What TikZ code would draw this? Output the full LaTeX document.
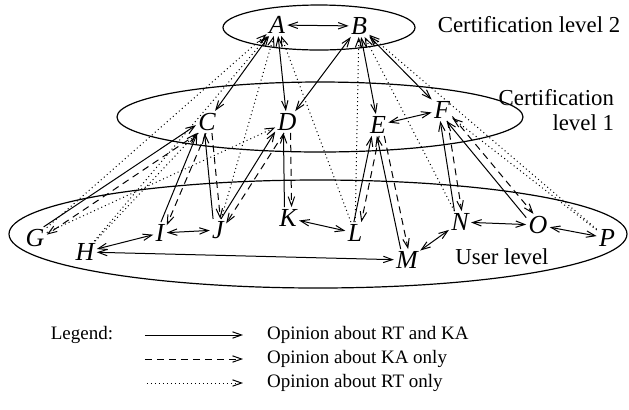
\documentclass[tikz,border=0pt]{standalone}
\usepackage{fontspec}
\setmainfont{Liberation Serif}
\usetikzlibrary{arrows.meta}
\tikzset{
  usr/.style={inner sep=1pt, font=\fontsize{13}{13}\selectfont\itshape},
  lvl/.style={line width=0.6pt},
  lvllbl/.style={font=\fontsize{11.4}{12.5}\selectfont},
  lbl/.style={font=\fontsize{9.5}{12.5}\selectfont},
  rtka/.style={line width=0.5pt},
  kaonly/.style={line width=0.5pt, dash pattern=on 3.5pt off 2.5pt},
  rtonly/.style={line width=0.5pt, dash pattern=on 0.5pt off 1.5pt},
  >={Straight Barb[length=4.5pt,width=3.2pt]}
}
\begin{document}
\begin{tikzpicture}[x=0.5pt,y=-0.5pt]
  \useasboundingbox (0,0) rectangle (629,409);
  % levels
  \draw[lvl] (319,27.5) ellipse [x radius=96, y radius=22.5];
  \draw[lvl] (320,117) ellipse [x radius=203, y radius=35];
  \draw[lvl] (318,234) ellipse [x radius=309, y radius=54];
  % texts
  \node[lvllbl] (lvl2) at (529,25) {Certification level 2};
  \node[lvllbl, align=right, anchor=east] (lvl1) at (621,110) {Certification\\level 1};
  \node[lvllbl] (lvl0) at (502,257) {User level};
  % certification level 2
  \node[usr] (A) at (277,25) {A};
  \node[usr] (B) at (359,26) {B};
  % certification level 1
  \node[usr] (C) at (207,122) {C};
  \node[usr] (D) at (287,122) {D};
  \node[usr] (E) at (378,125) {E};
  \node[usr] (F) at (442,110) {F};
  % user level
  \node[usr] (G) at (35,238) {G};
  \node[usr] (H) at (85,252) {H};
  \node[usr] (I) at (160,233) {I};
  \node[usr] (J) at (218,230) {J};
  \node[usr] (K) at (288,218) {K};
  \node[usr] (L) at (355,233) {L};
  \node[usr] (M) at (407,260) {M};
  \node[usr] (N) at (460,222) {N};
  \node[usr] (O) at (538,225) {O};
  \node[usr] (P) at (607,238) {P};
  % links between certifiers
  \draw[rtka,<->] (A) -- (B);
  \draw[rtka,<->] (A) -- (C);
  \draw[rtka,<->] (A) -- (D);
  \draw[rtka,<->] (B) -- (D);
  \draw[rtka,<->] (B) -- (E);
  \draw[rtka,<->] (B) -- (F);
  \draw[rtka,<->] (E) -- (F);
  % links between users
  \draw[rtka,<->] (H) -- (I);
  \draw[rtka,<->] (I) -- (J);
  \draw[rtka,<->] (K) -- (L);
  \draw[rtka,<->] (H) -- (M);
  \draw[rtka,<->] (M) -- (N);
  \draw[rtka,<->] (N) -- (O);
  \draw[rtka,<->] (O) -- (P);
  % users up to their certifiers
  \draw[rtka,->] (G.52) -- (C.196);
  \draw[rtka,->] (I.85) -- (C.229);
  \draw[rtka,->] (J.114) -- (C.258);
  \draw[rtka,->] (J.75) -- (D.219);
  \draw[rtka,->] (K.108) -- (D.252);
  \draw[rtka,->] (L.96) -- (E.240);
  \draw[rtka,->] (M.120) -- (E.264);
  \draw[rtka,->] (N.117) -- (F.261);
  \draw[rtka,->] (O.148) -- (F.292);
  % certifiers down to their users
  \draw[kaonly,->] (C.232) -- (G.16);
  \draw[kaonly,->] (C.265) -- (I.49);
  \draw[kaonly,->] (C.294) -- (J.78);
  \draw[kaonly,->] (D.255) -- (J.39);
  \draw[kaonly,->] (D.288) -- (K.72);
  \draw[kaonly,->] (E.276) -- (L.60);
  \draw[kaonly,->] (E.300) -- (M.84);
  \draw[kaonly,->] (F.297) -- (N.81);
  \draw[kaonly,->] (F.328) -- (O.112);
  % users about other certifiers
  \draw[rtonly,->] (G) -- (A);
  \draw[rtonly,->] (G) -- (D);
  \draw[rtonly,->] (H) -- (A);
  \draw[rtonly,->] (H) -- (C);
  \draw[rtonly,->] (J) -- (A);
  \draw[rtonly,->] (L) -- (A);
  \draw[rtonly,->] (L) -- (B);
  \draw[rtonly,->] (N) -- (B);
  \draw[rtonly,->] (P) -- (B);
  \draw[rtonly,->] (P) -- (F);
  % legend
  \node[lbl] (legend) at (82,335) {Legend:};
  \coordinate (s1) at (145,335);
  \coordinate (s2) at (243,335);
  \coordinate (d1) at (145,359);
  \coordinate (d2) at (243,359);
  \coordinate (t1) at (147,383);
  \coordinate (t2) at (243,383);
  \draw[rtka,->] (s1) -- (s2);
  \draw[kaonly,->] (d1) -- (d2);
  \draw[rtonly,->] (t1) -- (t2);
  \node[lbl, anchor=west] (op1) at (260,335) {Opinion about RT and KA};
  \node[lbl, anchor=west] (op2) at (260,359) {Opinion about KA only};
  \node[lbl, anchor=west] (op3) at (260,383) {Opinion about RT only};
\end{tikzpicture}
\end{document}
